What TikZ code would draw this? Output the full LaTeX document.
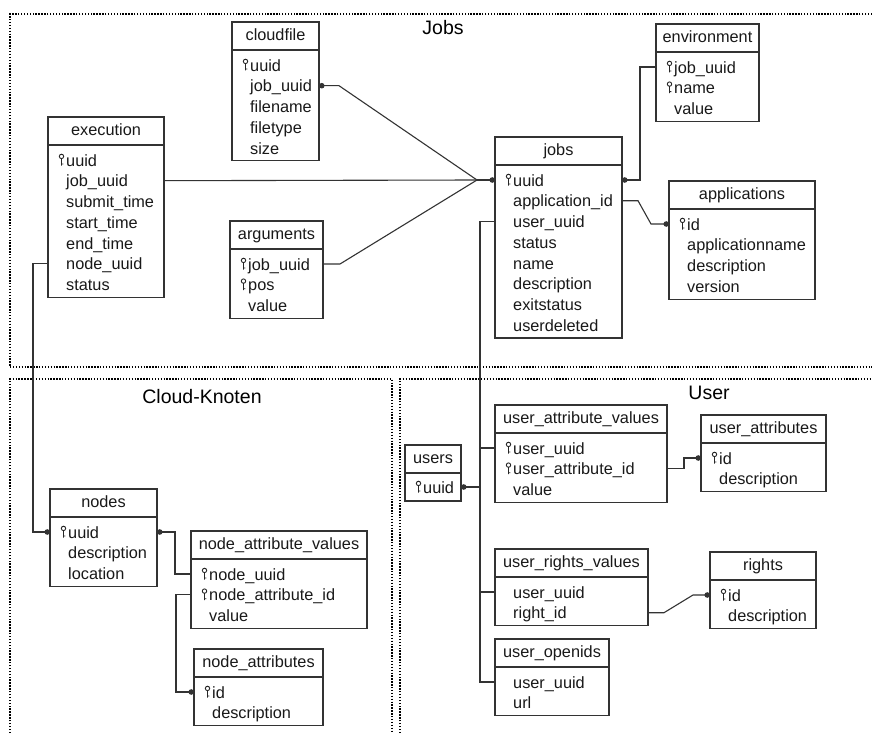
\documentclass[tikz,border=0pt]{standalone}
\usepackage{fontspec}
\setmainfont{Liberation Sans}
\usetikzlibrary{calc,arrows.meta}
\begin{document}
\begin{tikzpicture}[x=1pt,y=-1pt,
    every node/.style={font=\fontsize{16.3}{19}\selectfont, text=black!90},
    frame/.style={line width=1.5pt, dash pattern=on 1.4pt off 1.5pt, draw=black},
    head/.style={draw=black!80, line width=1.2pt, anchor=north west, minimum height=28, inner sep=0pt, outer sep=0pt, text height=12, text depth=3},
    body/.style={draw=black!80, line width=1.2pt, anchor=north west, inner sep=0pt, outer sep=0pt},
    row/.style={anchor=west, inner sep=0pt, text height=12.5, text depth=0pt},
    title/.style={font=\fontsize{19.5}{22}\selectfont, text=black},
    conn/.style={line width=1.1pt, draw=black!80},
    dot/.tip={Circle[length=5.5pt]},
    pics/pkey/.style={code={
        \draw[line width=0.9pt, black!85] (0,-3.6) circle (2.2pt) (0,-1.4) -- (0,5.5) (0,4) -- (1.8,4);
    }}]
\useasboundingbox (0,0) rectangle (872,733);
\fill[white] (0,0) rectangle (872,733);

% Bereiche
\draw[frame] (872,14) -- (10,14) -- (10,367) -- (872,367);
\draw[frame] (10,733) -- (10,379) -- (392,379) -- (392,733);
\draw[frame] (400,733) -- (400,379) -- (872,379);
\node[title] (jobs-t) at (443,28) {Jobs};
\node[title] (cloud-t) at (202,397) {Cloud-Knoten};
\node[title] (user-t) at (709,393) {User};

% Jobs
\node[head, minimum width=87] (cloudfile) at (232,22) {cloudfile};
\node[body, minimum width=87, minimum height=28+20.7*4] (cloudfile-b) at (cloudfile.south west) {};
\foreach \t [count=\i] in {uuid,job\_uuid,filename,filetype,size}
    \node[row] (cloudfile-\i) at ($(cloudfile.south west)+(18,{15+20.7*(\i-1)})$) {\t};
\pic at ($(cloudfile-1.west)+(-4.5,0)$) {pkey};

\node[head, minimum width=116] (execution) at (48,117) {execution};
\node[body, minimum width=116, minimum height=28+20.7*6] (execution-b) at (execution.south west) {};
\foreach \t [count=\i] in {uuid,job\_uuid,submit\_time,start\_time,end\_time,node\_uuid,status}
    \node[row] (execution-\i) at ($(execution.south west)+(18,{15+20.7*(\i-1)})$) {\t};
\pic at ($(execution-1.west)+(-4.5,0)$) {pkey};

\node[head, minimum width=93] (arguments) at (230,221) {arguments};
\node[body, minimum width=93, minimum height=28+20.7*2] (arguments-b) at (arguments.south west) {};
\foreach \t [count=\i] in {job\_uuid,pos,value}
    \node[row] (arguments-\i) at ($(arguments.south west)+(18,{15+20.7*(\i-1)})$) {\t};
\foreach \i in {1,2}
    \pic at ($(arguments-\i.west)+(-4.5,0)$) {pkey};

\node[head, minimum width=127] (jobs) at (495,137) {jobs};
\node[body, minimum width=127, minimum height=28+20.7*7] (jobs-b) at (jobs.south west) {};
\foreach \t [count=\i] in {uuid,application\_id,user\_uuid,status,name,description,exitstatus,userdeleted}
    \node[row] (jobs-\i) at ($(jobs.south west)+(18,{15+20.7*(\i-1)})$) {\t};
\pic at ($(jobs-1.west)+(-4.5,0)$) {pkey};

\node[head, minimum width=103] (environment) at (656,24) {environment};
\node[body, minimum width=103, minimum height=28+20.7*2] (environment-b) at (environment.south west) {};
\foreach \t [count=\i] in {job\_uuid,name,value}
    \node[row] (environment-\i) at ($(environment.south west)+(18,{15+20.7*(\i-1)})$) {\t};
\foreach \i in {1,2}
    \pic at ($(environment-\i.west)+(-4.5,0)$) {pkey};

\node[head, minimum width=146] (applications) at (669,181) {applications};
\node[body, minimum width=146, minimum height=28+20.7*3] (applications-b) at (applications.south west) {};
\foreach \t [count=\i] in {id,applicationname,description,version}
    \node[row] (applications-\i) at ($(applications.south west)+(18,{15+20.7*(\i-1)})$) {\t};
\pic at ($(applications-1.west)+(-4.5,0)$) {pkey};

% Cloud-Knoten
\node[head, minimum width=107] (nodes) at (50,489) {nodes};
\node[body, minimum width=107, minimum height=28+20.7*2] (nodes-b) at (nodes.south west) {};
\foreach \t [count=\i] in {uuid,description,location}
    \node[row] (nodes-\i) at ($(nodes.south west)+(18,{15+20.7*(\i-1)})$) {\t};
\pic at ($(nodes-1.west)+(-4.5,0)$) {pkey};

\node[head, minimum width=176] (nav) at (191,531) {node\_attribute\_values};
\node[body, minimum width=176, minimum height=28+20.7*2] (nav-b) at (nav.south west) {};
\foreach \t [count=\i] in {node\_uuid,node\_attribute\_id,value}
    \node[row] (nav-\i) at ($(nav.south west)+(18,{15+20.7*(\i-1)})$) {\t};
\foreach \i in {1,2}
    \pic at ($(nav-\i.west)+(-4.5,0)$) {pkey};

\node[head, minimum width=129] (na) at (194,649) {node\_attributes};
\node[body, minimum width=129, minimum height=28+20.7*1] (na-b) at (na.south west) {};
\foreach \t [count=\i] in {id,description}
    \node[row] (na-\i) at ($(na.south west)+(18,{15+20.7*(\i-1)})$) {\t};
\pic at ($(na-1.west)+(-4.5,0)$) {pkey};

% User
\node[head, minimum width=56] (users) at (405,445) {users};
\node[body, minimum width=56, minimum height=28] (users-b) at (users.south west) {};
\node[row] (users-1) at ($(users.south west)+(18,14)$) {uuid};
\pic at ($(users-1.west)+(-4.5,0)$) {pkey};

\node[head, minimum width=172] (uav) at (495,405) {user\_attribute\_values};
\node[body, minimum width=172, minimum height=28+20.7*2] (uav-b) at (uav.south west) {};
\foreach \t [count=\i] in {user\_uuid,user\_attribute\_id,value}
    \node[row] (uav-\i) at ($(uav.south west)+(18,{15+20.7*(\i-1)})$) {\t};
\foreach \i in {1,2}
    \pic at ($(uav-\i.west)+(-4.5,0)$) {pkey};

\node[head, minimum width=125] (ua) at (701,415) {user\_attributes};
\node[body, minimum width=125, minimum height=28+20.7*1] (ua-b) at (ua.south west) {};
\foreach \t [count=\i] in {id,description}
    \node[row] (ua-\i) at ($(ua.south west)+(18,{15+20.7*(\i-1)})$) {\t};
\pic at ($(ua-1.west)+(-4.5,0)$) {pkey};

\node[head, minimum width=153] (urv) at (495,549) {user\_rights\_values};
\node[body, minimum width=153, minimum height=28+20.7*1] (urv-b) at (urv.south west) {};
\foreach \t [count=\i] in {user\_uuid,right\_id}
    \node[row] (urv-\i) at ($(urv.south west)+(18,{15+20.7*(\i-1)})$) {\t};

\node[head, minimum width=106] (rights) at (710,552) {rights};
\node[body, minimum width=106, minimum height=28+20.7*1] (rights-b) at (rights.south west) {};
\foreach \t [count=\i] in {id,description}
    \node[row] (rights-\i) at ($(rights.south west)+(18,{15+20.7*(\i-1)})$) {\t};
\pic at ($(rights-1.west)+(-4.5,0)$) {pkey};

\node[head, minimum width=114] (uoid) at (495,639) {user\_openids};
\node[body, minimum width=114, minimum height=28+20.7*1] (uoid-b) at (uoid.south west) {};
\foreach \t [count=\i] in {user\_uuid,url}
    \node[row] (uoid-\i) at ($(uoid.south west)+(18,{15+20.7*(\i-1)})$) {\t};

% Beziehungen
\coordinate (merge) at ($(jobs-1 -| jobs.west)+(-18,0)$);
\draw[conn, dot-] (cloudfile-2 -| cloudfile.east) -- ++(20,0) -- (merge);
\draw[conn] (execution-2 -| execution.east) -- (merge);
\draw[conn] (arguments-1 -| arguments.east) -- ++(17,0) -- (merge);
\draw[conn, -dot] (merge) -- (jobs-1 -| jobs.west);
\draw[conn, dot-] (jobs-1 -| jobs.east) -- ++(18,0) |- (environment-1 -| environment.west);
\draw[conn, -dot] (jobs-2 -| jobs.east) -- ++(16,0) -- ($(applications-1 -| applications.west)+(-18,0)$) -- (applications-1 -| applications.west);

\draw[conn] (jobs-3 -| jobs.west) -- ++(-15,0) coordinate (bus) |- (uoid-1 -| uoid.west);
\draw[conn] (bus |- uav-1) -- (uav-1 -| uav.west);
\draw[conn, dot-] (users-1 -| users.east) -- (bus |- users-1);
\draw[conn] (bus |- urv-1) -- (urv-1 -| urv.west);

\draw[conn, -dot] (execution-6 -| execution.west) -- ++(-15,0) |- (nodes-1 -| nodes.west);
\draw[conn, dot-] (nodes-1 -| nodes.east) -- ++(18,0) |- (nav-1 -| nav.west);
\draw[conn, -dot] (nav-2 -| nav.west) -- ++(-15,0) |- (na-1 -| na.west);

\draw[conn, -dot] (uav-2 -| uav.east) -- ++(17,0) |- (ua-1 -| ua.west);
\draw[conn, -dot] (urv-2 -| urv.east) -- ++(16,0) -- ($(rights-1 -| rights.west)+(-17,0)$) -- (rights-1 -| rights.west);
\end{tikzpicture}
\end{document}
